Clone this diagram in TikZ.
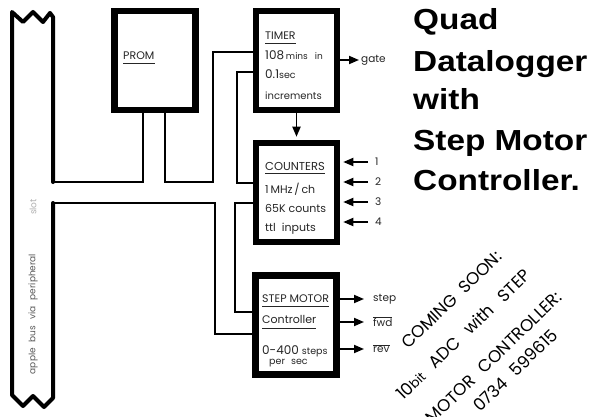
\documentclass[tikz,border=0pt]{standalone}
\usepackage{fontspec}
\usepackage{graphicx}
\setmainfont{Poppins}
\newfontfamily\titlefont{Liberation Sans}
\usetikzlibrary{arrows.meta}
\begin{document}
\begin{tikzpicture}[x=1pt,y=-1pt,
  box/.style={draw=black, line width=6.5pt, minimum width=81pt, minimum height=99pt, inner sep=0pt},
  wire/.style={draw=black, line width=1.8pt},
  busline/.style={draw=black, line width=4pt, line join=round, line cap=round},
  arr/.style={wire, -{Triangle[length=10pt,width=8pt]}},
  txt/.style={anchor=base west, inner sep=0pt, font=\fontsize{11}{12}\selectfont, text=black!85},
  io/.style={anchor=west, inner sep=0pt, font=\fontsize{10.5}{12}\selectfont, text=black!85},
  uline/.style={line width=0.9pt, black!85},
  ttl/.style={anchor=base west, inner sep=0pt, font=\titlefont\bfseries\fontsize{29}{30}\selectfont},
  diag/.style={inner sep=0pt, rotate=44, font=\fontsize{17}{18}\selectfont},
]
\useasboundingbox (0,0) rectangle (594,417);
\clip (0,0) rectangle (594,417);
\fill[white] (0,0) rectangle (594,417);

% bus
\draw[busline] (53,182) -- (53,17) -- (50,13) -- (43,22) -- (33,12) -- (23,22) -- (12,12)
  -- (12,395) -- (23,406) -- (33,396) -- (44,407) -- (53,398) -- (53,203);
\node[rotate=90, inner sep=0pt, font=\fontsize{9}{10}\selectfont, text=black!65] (busT) at (33,314)
  {apple\hspace{6pt}bus\hspace{6pt}via\hspace{6pt}peripheral};
\node[rotate=90, inner sep=0pt, font=\fontsize{9}{10}\selectfont, text=black!30] (busS) at (33,207) {slot};

% boxes
\node[box] (prom) at (155,60.5) {};
\node[box] (timer) at (296.5,60.5) {};
\node[box] (counters) at (296.5,192.5) {};
\node[box] (step) at (296,325) {};

% box texts
\node[txt] (promT) at (123,60) {PROM};
\draw[uline] ([yshift=-3pt]promT.base west) -- ([yshift=-3pt]promT.base east);

\node[txt] (timerT) at (265,40) {TIMER};
\draw[uline] ([yshift=-3pt]timerT.base west) -- ([yshift=-3pt]timerT.base east);
\node[txt] (timerA) at (265,60) {{\fontsize{12}{13}\selectfont 108}\,{\fontsize{9}{10}\selectfont mins\hspace{7pt}in}};
\node[txt] (timerB) at (265,79) {{\fontsize{12}{13}\selectfont 0.1}{\fontsize{9.5}{10}\selectfont sec}};
\node[txt, font=\fontsize{10}{11}\selectfont] (timerC) at (265,100) {increments};

\node[txt] (cT) at (265,170) {\fontsize{11.5}{12}\selectfont COUNTERS};
\draw[uline] ([yshift=-3pt]cT.base west) -- ([yshift=-3pt]cT.base east);
\node[txt] (cA) at (265,193) {1\,MHz\,/\,ch};
\node[txt] (cB) at (265,212.5) {65K counts};
\node[txt] (cC) at (265,231) {ttl\hspace{6pt}inputs};

\node[txt] (sT) at (262,302.5) {STEP MOTOR};
\draw[uline] ([yshift=-3.5pt]sT.base west) -- ([yshift=-3.5pt]sT.base east);
\node[txt] (sA) at (262,323.5) {Controller};
\draw[uline] ([yshift=-4.5pt]sA.base west) -- ([yshift=-4.5pt]sA.base east);
\node[txt] (sB) at (262,354) {{\fontsize{12}{13}\selectfont 0-400} {\fontsize{9.5}{10}\selectfont steps}};
\node[txt, font=\fontsize{9.5}{10}\selectfont] (sC) at (269,364) {per\hspace{6pt}sec};

% connectors
\coordinate (busA) at (53,182);
\coordinate (busB) at (53,203);
\coordinate (pa) at (143,0);
\draw[wire] (busA) -| (pa |- prom.south);
\coordinate (pb) at (165,182);
\coordinate (pc) at (213,52);
\draw[wire] (pb |- prom.south) -- (pb) -| (pc) -- (pc -| timer.west);
\coordinate (pd) at (237,72);
\coordinate (pe) at (237,183);
\draw[wire] (pd -| timer.west) -- (pd) -- (pe) -- (pe -| counters.west);
\coordinate (pf) at (215,334);
\draw[wire] (busB) -| (pf) -- (pf -| step.west);
\coordinate (pg) at (235,203);
\coordinate (ph) at (235,312);
\draw[wire] (pg -| counters.west) -- (pg) -- (ph) -- (ph -| step.west);

% arrows
\draw[arr, shorten >=3pt] (timer.south) -- (counters.north);
\node[io] (gate) at (361,60) {gate};
\draw[arr, shorten >=2pt] (timer.east |- gate.west) -- (gate.west);

\node[io] (i1) at (375,162) {1};
\node[io] (i2) at (375,182) {2};
\node[io] (i3) at (375,202) {3};
\node[io] (i4) at (375,222) {4};
\foreach \n in {i1,i2,i3,i4}
  \draw[arr, shorten <=7pt, shorten >=3pt] (\n.west) -- (counters.east |- \n.west);

\node[io] (o1) at (373,299) {step};
\node[io] (o2) at (373,322) {$\overline{\hbox{fwd}}$};
\node[io] (o3) at (373,349) {$\overline{\hbox{rev}}$};
\foreach \n in {o1,o2,o3}
  \draw[arr, shorten >=9pt] (step.east |- \n.west) -- (\n.west);

% title
\node[ttl] (t1) at (413,30) {\scalebox{1.15}[1]{Quad}};
\node[ttl] (t2) at (413,72) {\scalebox{1.15}[1]{Datalogger}};
\node[ttl] (t3) at (413,110) {\scalebox{1.15}[1]{with}};
\node[ttl] (t4) at (413,150) {\scalebox{1.15}[1]{Step Motor}};
\node[ttl] (t5) at (413,190) {\scalebox{1.15}[1]{Controller.}};

% diagonal notice
\node[diag, anchor=base west] (d1) at (408,350) {COMING\hspace{9pt}SOON:};
\node[diag, anchor=base west] (d2) at (403,401) {10{\fontsize{13}{14}\selectfont bit}\hspace{12pt}ADC\hspace{12pt}with\hspace{12pt}STEP};
\node[diag, anchor=base east] (d3) at (563,299) {MOTOR\hspace{11pt}CONTROLLER:};
\node[diag, anchor=base west] (d4) at (480,413) {0734\hspace{10pt}599615};
\end{tikzpicture}
\end{document}
